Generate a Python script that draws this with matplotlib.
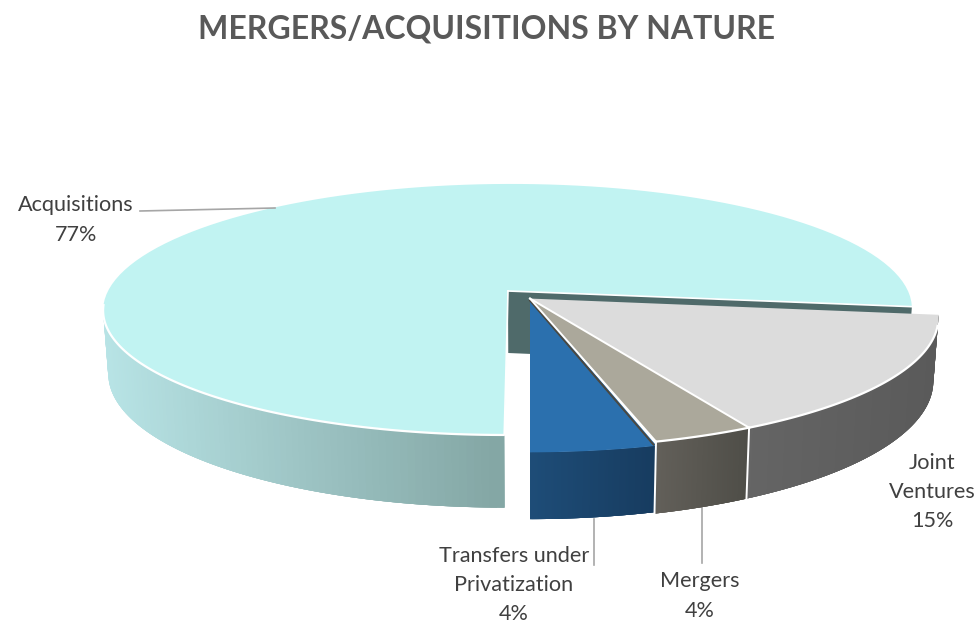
"""3D-looking exploded pie of mergers/acquisitions by nature, projected by hand."""
import numpy as np
import matplotlib
matplotlib.use("Agg")
import matplotlib.pyplot as plt
from matplotlib.collections import PolyCollection
from matplotlib.colors import to_rgb

categories = ["Acquisitions", "Joint\nVentures", "Mergers", "Transfers under\nPrivatization"]
shares = [77.0, 15.2, 3.5, 4.3]
share_labels = ["77%", "15%", "4%", "4%"]

START_ANGLE = 180.0     # clockwise from 12 o'clock
CX, CY = 530.0, 291.0   # centre of projection, px
RX, RY = 400.0, 122.8
PERSP = 0.147
TAPER = 0.012           # walls lean slightly inwards going down

# per slice: shift u, shift v, radial scale on v, depth
GEOM = [(-22.0, 0.0, 1.0, 62.0),
        (0.0, 0.061, 1.015, 61.0),
        (0.0, 0.061, 1.015, 61.0),
        (0.0, 0.061, 1.04, 56.0)]
TOPS = ["#c1f3f2", "#dcdcdc", "#aba89b", "#2b70ae"]
# side colour at the right and left end of the visible arc
SIDES = [("#84a7a5", "#b8e4e6"), ("#5a5a5a", "#656565"),
         ("#4f4e48", "#63605a"), ("#173c60", "#1e4d78")]
TEXT = "#404040"
LEADER = "#a6a6a6"


def project(phi, rad, geom, z=0.0):
    du, dv, rv, depth = geom
    a = np.radians(phi)
    u = du / RX + rad * np.sin(a)
    v = dv - rad * rv * np.cos(a)
    w = 1.0 / (1.0 - PERSP * v)
    return CX + RX * u * w * (1 - TAPER * z), CY + RY * v * w + z * depth * w


def arc(p0, p1, geom, z=0.0, n=120):
    phi = np.linspace(p0, p1, n)
    x, y = project(phi, 1.0, geom, z)
    return x, y


def draw_side(ax, p0, p1, geom, colors, zorder):
    phi = np.linspace(p0, p1, 90)
    x0, y0 = project(phi, 1.0, geom)
    x1, y1 = project(phi, 1.0, geom, 1.0)
    quads, cols = [], []
    c0, c1 = np.array(to_rgb(colors[0])), np.array(to_rgb(colors[1]))
    right, left = x0.max(), x0.min()
    n = len(phi)
    # each quad overlaps the next one so that no seams show
    order = np.argsort(x0)
    for i in order:
        j = min(i + 2, n - 1)
        k = max(i - 2, 0)
        quads.append([(x0[k], y0[k]), (x0[j], y0[j]), (x1[j], y1[j]), (x1[k], y1[k])])
        cols.append(c0 + (c1 - c0) * (right - x0[i]) / (right - left))
    ax.add_collection(PolyCollection(quads, facecolors=cols, edgecolors="none", zorder=zorder))


def draw_top(ax, p0, p1, geom, color, zorder):
    x, y = arc(p0, p1, geom)
    ax0, ay0 = project(0.0, 0.0, geom)
    ax.fill(np.r_[ax0, x], np.r_[ay0, y], color=color, lw=0, zorder=zorder)


fig = plt.figure(figsize=(9.78, 6.24), dpi=100)
ax = fig.add_axes([0, 0, 1, 1])
ax.set_xlim(0, 978)
ax.set_ylim(624, 0)
ax.axis("off")
plt.rcParams["font.family"] = ["Lato", "DejaVu Sans"]

edges = START_ANGLE + np.r_[0.0, np.cumsum(shares)] * 3.6
p_main0, p_main1 = edges[0], edges[1]
p_main_end = p_main1 - 360.0    # same edge, measured from 12 o'clock
jv = (p_main_end, p_main_end + shares[1] * 3.6)
mg = (jv[1], jv[1] + shares[2] * 3.6)
tr = (mg[1], mg[1] + shares[3] * 3.6)

# main slice: outer wall, inner wall, top
g = GEOM[0]
draw_side(ax, p_main0, 262.0, g, SIDES[0], 1)
wx0, wy0 = project(0.0, 0.0, g)
wx1, wy1 = project(p_main_end, 1.0, g)
wz0 = project(0.0, 0.0, g, 1.0)
wz1 = project(p_main_end, 1.0, g, 1.0)
ax.fill([wx0, wx1, wz1[0], wz0[0]], [wy0, wy1, wz1[1], wz0[1]], color="#4f6a6a", lw=0, zorder=2)
draw_top(ax, p_main0, p_main1, g, TOPS[0], 3)
x, y = arc(p_main0, 264.0, g)
ax.plot(x, y, color="white", lw=1.6, zorder=4, solid_capstyle="butt")
ax.plot([wx0, wx1], [wy0, wy1], color="white", lw=1.2, zorder=4)
x0, y0 = project(p_main0, 1.0, g)
ax.plot([wx0, x0], [wy0, y0], color="white", lw=1.2, zorder=4)

# exploded slices, back to front
for i, (p0, p1) in zip([1, 2, 3], [jv, mg, tr]):
    g = GEOM[i]
    draw_side(ax, p0, p1, g, SIDES[i], 5)
    draw_top(ax, p0, p1, g, TOPS[i], 6)
    if i != 3:
        x, y = arc(max(p0, 102.0), p1, g)
        ax.plot(x, y, color="white", lw=1.6, zorder=7)
        xa, ya = project(p1, 1.0, g)
        xb, yb = project(p1, 1.0, g, 1.0)
        ax.plot([xa, xb], [ya, yb], color="white", lw=1.4, zorder=7)
        xc, yc = project(0.0, 0.0, g)
        ax.plot([xc, xa], [yc, ya], color="white", lw=1.4, zorder=8)

# thin dark wall of the mergers slice, next to the transfers top
xc, yc = project(0.0, 0.0, GEOM[2])
xa, ya = project(mg[1], 1.0, GEOM[2])
ax.plot([xc, xa - 2.5], [yc + 2, ya + 3], color="#4b4840", lw=1.4, zorder=7.5)

# leaders
ax.plot([140, 275], [211, 208], color=LEADER, lw=1.2, zorder=9)
ax.plot([594, 594], [519, 565], color=LEADER, lw=1.2, zorder=0)
ax.plot([702, 702], [507, 563], color=LEADER, lw=1.2, zorder=0)

# texts
ax.text(486, 29, "MERGERS/ACQUISITIONS BY NATURE", ha="center", va="center",
        fontsize=23, fontweight="bold", color="#595959")
label_pos = [(76, 220), (932, 492), (700, 596), (514, 585)]
for cat, lab, (lx, ly) in zip(categories, share_labels, label_pos):
    ax.text(lx, ly, f"{cat}\n{lab}", ha="center", va="center", fontsize=15.6,
            color=TEXT, linespacing=1.58)

fig.savefig("out.png", dpi=100)
